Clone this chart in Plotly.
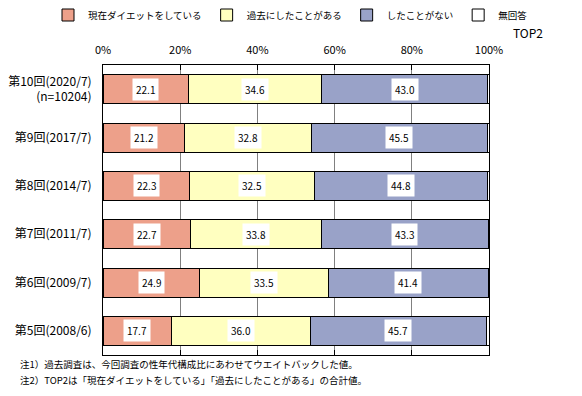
import plotly.graph_objects as go

categories = ["第10回(2020/7)<br>(n=10204)", "第9回(2017/7)", "第8回(2014/7)",
              "第7回(2011/7)", "第6回(2009/7)", "第5回(2008/6)"]
current = [22.1, 21.2, 22.3, 22.7, 24.9, 17.7]
past = [34.6, 32.8, 32.5, 33.8, 33.5, 36.0]
never = [43.0, 45.5, 44.8, 43.3, 41.4, 45.7]
no_answer = [0.3, 0.5, 0.4, 0.3, 0.2, 0.6]
top2 = [56.7, 54.0, 54.8, 56.5, 58.4, 53.7]
series_names = ["現在ダイエットをしている", "過去にしたことがある", "したことがない", "無回答"]
colors = ["#EDA08A", "#FFFFC0", "#99A2C8", "#FFFFFF"]
tick_vals = [0, 20, 40, 60, 80, 100]
tick_text = ["0%", "20%", "40%", "60%", "80%", "100%"]
notes = ["注1）過去調査は、今回調査の性年代構成比にあわせてウエイトバックした値。",
         "注2）TOP2は「現在ダイエットをしている」「過去にしたことがある」の合計値。"]

FONT = "Noto Sans CJK JP"
W, H = 582, 396
pl, pr, pt, pb = 103, 489, 65, 355


def px_to_paper_x(px):
    return (px - pl) / (pr - pl)


def px_to_paper_y(py):
    return (pb - py) / (pb - pt)


fig = go.Figure()
for name, vals, col in zip(series_names, [current, past, never, no_answer], colors):
    fig.add_trace(go.Bar(
        y=categories, x=vals, name=name, orientation="h",
        marker=dict(color=col, line=dict(color="#000000", width=1)),
        width=0.6,
    ))

for i, cat in enumerate(categories):
    start = 0
    for v in [current[i], past[i], never[i]]:
        fig.add_annotation(
            x=start + v / 2, y=cat, xref="x", yref="y", text=f"{v:.1f}",
            showarrow=False, bgcolor="#FFFFFF", borderpad=3,
            font=dict(size=10, color="#000000", family=FONT))
        start += v
    fig.add_annotation(
        x=101.8, y=cat, xref="x", yref="y", text=f"{no_answer[i]:.1f}",
        showarrow=False, xanchor="left",
        font=dict(size=10, color="#000000", family=FONT))
    fig.add_annotation(
        x=111, y=cat, xref="x", yref="y", yshift=6, text=f"{top2[i]:.1f}",
        showarrow=False, xanchor="left",
        font=dict(size=11, color="#000000", family=FONT))

fig.add_annotation(x=px_to_paper_x(528), y=px_to_paper_y(32), xref="paper", yref="paper",
                   text="TOP2", showarrow=False, xanchor="center", yanchor="middle",
                   font=dict(size=12, color="#000000", family=FONT))
for txt, yy in zip(notes, [364, 380]):
    fig.add_annotation(x=px_to_paper_x(18), y=px_to_paper_y(yy), xref="paper", yref="paper",
                       text=txt, showarrow=False, xanchor="left", yanchor="middle",
                       font=dict(size=9.5, color="#000000", family=FONT))

fig.update_layout(
    barmode="stack",
    width=W, height=H,
    margin=dict(l=pl, r=W - pr, t=pt, b=H - pb, autoexpand=False),
    paper_bgcolor="#FFFFFF", plot_bgcolor="#FFFFFF",
    font=dict(family=FONT, size=12, color="#000000"),
    legend=dict(orientation="h", x=px_to_paper_x(48), y=px_to_paper_y(15),
                xanchor="left", yanchor="middle", font=dict(size=9.5, family=FONT),
                itemwidth=30, traceorder="normal", tracegroupgap=0),
    xaxis=dict(range=[0, 100], side="top", tickvals=tick_vals, ticktext=tick_text,
               showgrid=True, gridcolor="#808080", gridwidth=1,
               showline=True, linecolor="#000000", linewidth=1, mirror="ticks",
               ticks="inside", ticklen=5, tickcolor="#000000", zeroline=False,
               ticklabelstandoff=6,
               tickfont=dict(size=11, family=FONT), fixedrange=True),
    yaxis=dict(categoryorder="array", categoryarray=categories, autorange="reversed",
               showline=True, linecolor="#000000", linewidth=1, mirror=True,
               ticks="", ticklabelstandoff=8, tickfont=dict(size=12, family=FONT)),
    showlegend=True,
)
fig.write_html("out.html", post_script="document.body.style.margin='0';",
               config={"displayModeBar": False})
